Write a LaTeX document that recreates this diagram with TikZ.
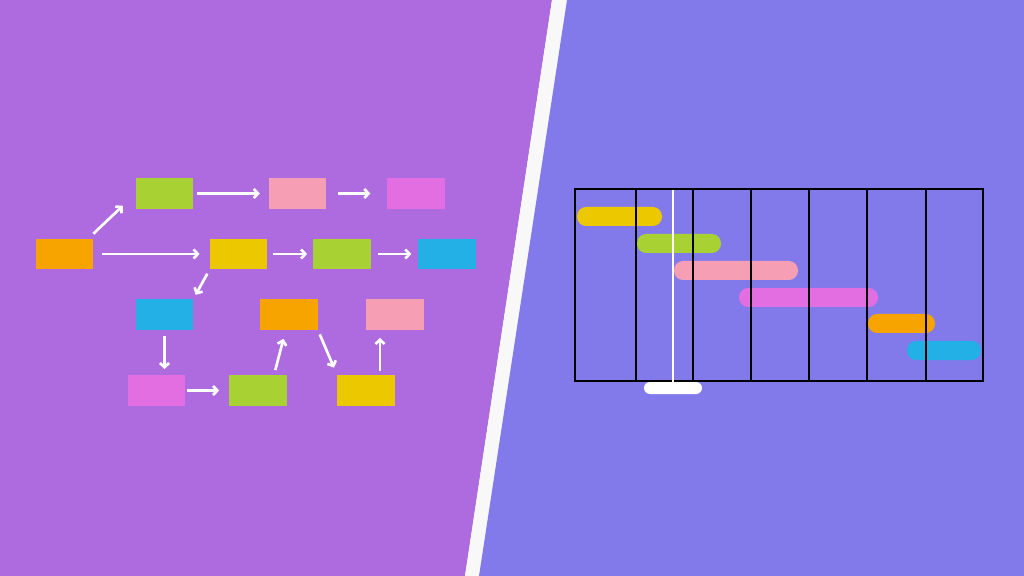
\documentclass[tikz,border=0pt]{standalone}
\usetikzlibrary{arrows.meta}

\definecolor{bgleft}{HTML}{AE6BE0}
\definecolor{bgright}{HTML}{827AEB}
\definecolor{stripe}{HTML}{F8F8F8}
\definecolor{cOrange}{HTML}{F7A400}
\definecolor{cGreen}{HTML}{A8D234}
\definecolor{cPink}{HTML}{F59EB4}
\definecolor{cMagenta}{HTML}{E26EE2}
\definecolor{cYellow}{HTML}{ECC800}
\definecolor{cBlue}{HTML}{22B0E6}

\begin{document}
\begin{tikzpicture}[
    x=0.025cm, y=-0.025cm,
    card/.style={rectangle, minimum width=1.43cm, minimum height=0.76cm,
        inner sep=0pt},
    link/.style={white, line width=1.9pt,
        -{Straight Barb[length=3pt,width=6.5pt]},
        shorten <=0.12cm, shorten >=0.2cm},
    bar/.style={rounded corners=0.23cm},
    grid/.style={black, line width=1.1pt}
]
    \useasboundingbox (0,0) rectangle (1024,576);
    % background halves and white divider
    \fill[bgleft] (0,0) -- (552,0) -- (465,576) -- (0,576) -- cycle;
    \fill[stripe] (552,0) -- (567,0) -- (479,576) -- (465,576) -- cycle;
    \fill[bgright] (567,0) -- (1024,0) -- (1024,576) -- (479,576) -- cycle;

    % network diagram
    \node[card, fill=cOrange] (a) at (64.5,254) {};
    \node[card, fill=cGreen] (b1) at (164.5,193.5) {};
    \node[card, fill=cPink] (b2) at (297.5,193.5) {};
    \node[card, fill=cMagenta] (b3) at (416,193.5) {};
    \node[card, fill=cYellow] (c1) at (238.5,254) {};
    \node[card, fill=cGreen] (c2) at (342,254) {};
    \node[card, fill=cBlue] (c3) at (447,254) {};
    \node[card, fill=cBlue] (d1) at (164.5,314.5) {};
    \node[card, fill=cOrange] (d2) at (289,314.5) {};
    \node[card, fill=cPink] (d3) at (395,314.5) {};
    \node[card, fill=cMagenta] (e1) at (156.5,390.5) {};
    \node[card, fill=cGreen] (e2) at (258,390.5) {};
    \node[card, fill=cYellow] (e3) at (366,390.5) {};

    \draw[link, shorten <=0pt, shorten >=0pt] ([yshift=0.12cm]a.north east)
        -- ([xshift=-0.32cm, yshift=0.08cm]b1.south west);
    \draw[link, shorten <=0.22cm, shorten >=0.25cm] (a) -- (c1);
    \draw[link, shorten <=0.1cm, shorten >=0.22cm] (b1) -- (b2);
    \draw[link, shorten <=0.3cm, shorten >=0.42cm] (b2) -- (b3);
    \draw[link, shorten <=0.15cm, shorten >=0.15cm] (c1) -- (c2);
    \draw[link, shorten <=0.17cm, shorten >=0.17cm] (c2) -- (c3);
    \draw[link, shorten <=0.12cm, shorten >=0.12cm] (c1.south west) -- (d1.north east);
    \draw[link, shorten <=0.15cm, shorten >=0.15cm] (d1.south) -- (d1.south |- e1.north);
    \draw[link, shorten <=0.05cm, shorten >=0.25cm] (e1) -- (e2);
    \draw[link, shorten <=0.13cm, shorten >=0.23cm] ([xshift=0.4cm]e2.north)
        -- ([xshift=-0.08cm]d2.south);
    \draw[link] (d2.south east) -- (e3.north west);
    \draw[link, shorten <=0.1cm, shorten >=0.2cm] ([xshift=0.35cm]e3.north)
        -- ([xshift=0.35cm]e3.north |- d3.south);

    % gantt chart
    \fill[bar, cYellow] (577,207) rectangle (662,226);
    \fill[bar, cGreen] (637,234) rectangle (721,253);
    \fill[bar, cPink] (674,261) rectangle (798,280);
    \fill[bar, cMagenta] (739,288) rectangle (878,307);
    \fill[bar, cOrange] (868,314) rectangle (935,333);
    \fill[bar, cBlue] (907,341) rectangle (981,360);

    \draw[grid] (575,189) rectangle (983,381);
    \draw[grid] (636,189) -- (636,381);
    \draw[grid] (693,189) -- (693,381);
    \draw[grid] (751,189) -- (751,381);
    \draw[grid] (809,189) -- (809,381);
    \draw[grid] (867,189) -- (867,381);
    \draw[grid] (926,189) -- (926,381);

    % today marker
    \draw[white, line width=1.2pt] (673,190) -- (673,383);
    \fill[white, rounded corners=0.15cm] (644,382) rectangle (702,394);
\end{tikzpicture}
\end{document}
